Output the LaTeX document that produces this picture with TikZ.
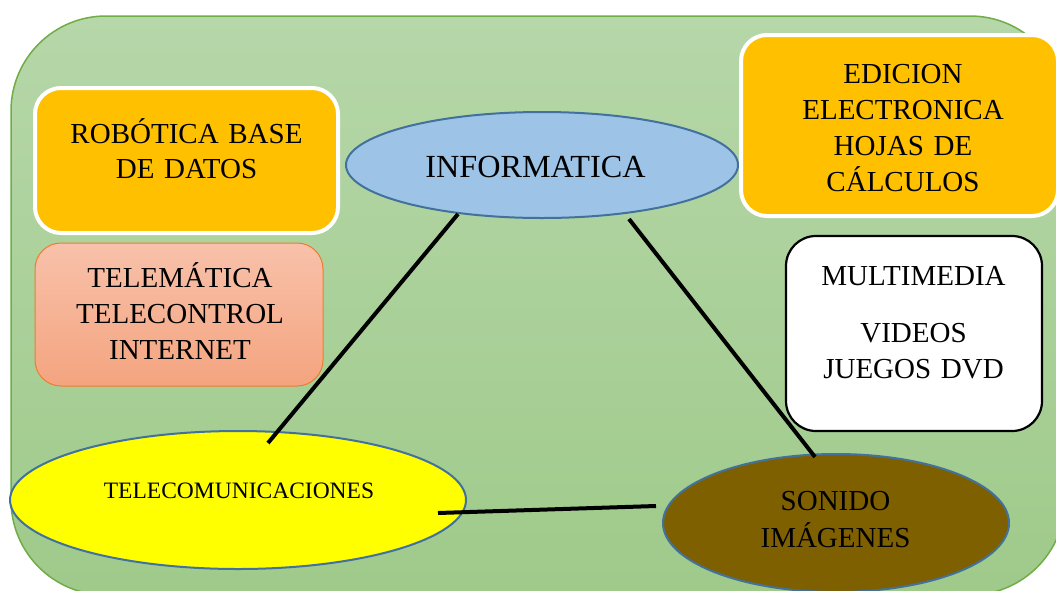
\documentclass[tikz,border=0pt]{standalone}
\usepackage{fontspec}
\setmainfont{Liberation Serif}
\usetikzlibrary{shapes.geometric}
\definecolor{bgtop}{HTML}{B6D7A9}
\definecolor{bgbot}{HTML}{9FCA8A}
\definecolor{bgline}{HTML}{70AD47}
\definecolor{gold}{HTML}{FFC000}
\definecolor{salmontop}{HTML}{F8C1AA}
\definecolor{salmonbot}{HTML}{F4A47F}
\definecolor{salmonline}{HTML}{ED7D31}
\definecolor{skyfill}{HTML}{9DC3E6}
\definecolor{ellline}{HTML}{41719C}
\definecolor{brownfill}{HTML}{7F6000}
\definecolor{pureyellow}{HTML}{FFFF00}
\begin{document}
\begin{tikzpicture}[x=1pt,y=-1pt,
  goldbox/.style={draw=white, line width=4pt, fill=gold, rounded corners=26pt, inner sep=0pt},
  salmonbox/.style={draw=salmonline, line width=1pt, top color=salmontop, bottom color=salmonbot, rounded corners=26pt, inner sep=0pt},
  whitebox/.style={draw=black, line width=2.2pt, fill=white, rounded corners=30pt, inner sep=0pt},
  oval/.style={ellipse, draw=ellline, line width=2pt, inner sep=0pt},
  txt/.style={font=\fontsize{29}{36.3}\selectfont, text width=330pt, align=center, inner sep=0pt, anchor=base},
  link/.style={draw=black, line width=4pt}
]
\useasboundingbox (0,0) rectangle (1056,590);
\clip (0,0) rectangle (1056,590);
% background panel
\path[draw=bgline, line width=1.5pt, top color=bgtop, bottom color=bgbot, rounded corners=95pt]
  (11,16) rectangle (1065,595);
% boxes
\node[goldbox, minimum width=303pt, minimum height=145pt] (robbox) at (186.5,160.5) {};
\node[salmonbox, minimum width=288pt, minimum height=143pt] (telebox) at (179,314.5) {};
\node[goldbox, minimum width=317pt, minimum height=181pt] (edibox) at (899.5,125.5) {};
\node[whitebox, minimum width=256pt, minimum height=195pt] (multibox) at (914,333.5) {};
% ellipses
\node[oval, fill=skyfill, minimum width=392pt, minimum height=106pt] (info) at (542,165) {};
\node[oval, fill=pureyellow, minimum width=456pt, minimum height=138pt] (tele) at (238,500) {};
\node[oval, fill=brownfill, minimum width=346pt, minimum height=138pt] (sonido) at (836,523) {};
% texts
\node[txt, font=\fontsize{29}{35}\selectfont] (robtxt) at (186.5,143) {ROBÓTICA BASE\\DE DATOS};
\node[txt] (teletxt) at (180,287) {TELEMÁTICA\\TELECONTROL\\INTERNET};
\node[txt] (editxt) at (903,83) {EDICION\\ELECTRONICA\\HOJAS DE\\CÁLCULOS};
\node[txt] (multitxt) at (913.5,285) {MULTIMEDIA\\[21pt]VIDEOS\\JUEGOS DVD};
\node[txt, font=\fontsize{32.2}{38}\selectfont] (infotxt) at (535.5,177) {INFORMATICA};
\node[txt, font=\fontsize{23.5}{28}\selectfont] (teletxtb) at (239,498) {TELECOMUNICACIONES};
\node[txt, font=\fontsize{29}{37}\selectfont] (sontxt) at (835.5,510) {SONIDO\\IMÁGENES};
% connector end points
\coordinate (l1a) at (458,214);
\coordinate (l1b) at (268,443);
\coordinate (l2a) at (629,219);
\coordinate (l2b) at (815,457);
\coordinate (l3a) at (438,513);
\coordinate (l3b) at (656,506);
\draw[link] (l1a) -- (l1b);
\draw[link] (l2a) -- (l2b);
\draw[link] (l3a) -- (l3b);
\end{tikzpicture}
\end{document}
